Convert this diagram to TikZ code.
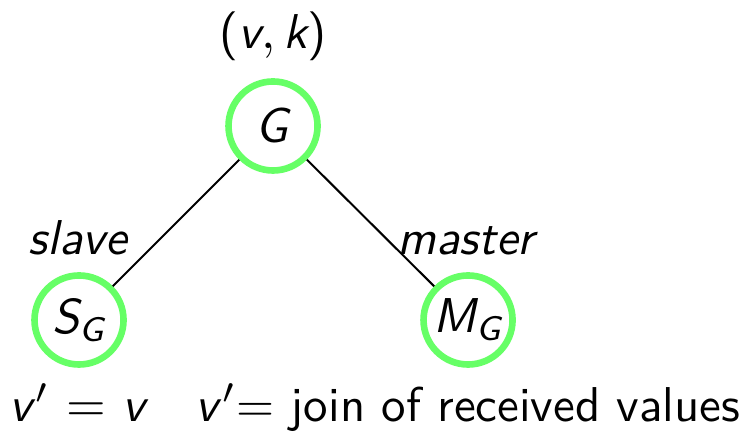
\documentclass[tikz,border=0pt]{standalone}
\usepackage{amsmath,amssymb}
\usepackage{xcolor}
\usepackage{tikz}
\usetikzlibrary{positioning}
\newcommand{\sv}[1]{\textsf{\itshape #1}}

\begin{document}
\begin{tikzpicture}[
  nd/.style={circle,draw=green!60,line width=1.3pt,minimum size=0.614cm,inner sep=0pt,
    font=\sffamily\fontsize{9.6pt}{11pt}\selectfont},
  lb/.style={anchor=base,inner sep=0pt,font=\sffamily\fontsize{9.6pt}{11pt}\selectfont}]
 \useasboundingbox (0,0) rectangle (5.131,2.986);
 % tree nodes
 \node[nd] (g) at (1.883,2.117) {\sv{G}};
 \node[nd] (s) at (0.545,0.779) {$\sv{S}_{\sv{G}}$};
 \node[nd] (m) at (3.228,0.779) {$\sv{M}_{\sv{G}}$};
 % edges
 \draw[line width=0.4pt] (g) -- (s);
 \draw[line width=0.4pt] (g) -- (m);
 % labels
 \node[lb] (gl) at (1.883,2.648) {$\textsf{(}\sv{v},\sv{k}\textsf{)}$};
 \node[lb] (sl) at (0.545,1.228) {\sv{slave}};
 \node[lb] (ml) at (3.228,1.228) {\sv{master}};
 \node[lb] (sv) at (0.545,0.076) {\sv{v}$'$ $=$ \sv{v}};
 \node[lb] (mv) at (3.228,0.076) {\sv{v}$'$= join of received values};
\end{tikzpicture}
\end{document}
